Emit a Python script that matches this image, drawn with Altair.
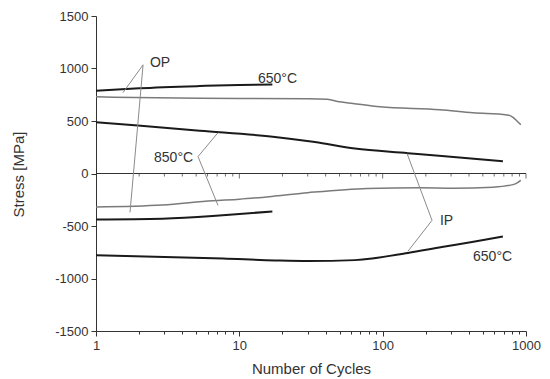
import altair as alt
import pandas as pd

# ---- data ----
op650_t_N = [1, 2, 5.3, 10, 17]
op650_t_S = [788, 812, 833, 843, 847]

g850_t_N = [1, 5.3, 30, 41, 50, 62, 96, 251, 427, 737, 812, 865, 920]
g850_t_S = [730, 716, 711, 706, 683, 667, 635, 608, 578, 558, 535, 500, 465]

ip850_t_N = [1, 1.96, 5.3, 17.7, 33.7, 64, 150, 259, 690]
ip850_t_S = [487, 456, 408, 348, 299, 237, 194, 166, 117]

g850_c_N = [1, 2.9, 6.5, 10, 17.7, 30, 78, 182, 310, 589, 812, 880, 920]
g850_c_S = [-320, -301, -260, -245, -215, -183, -142, -136, -140, -130, -106, -84, -66]

op650_c_N = [1, 2.9, 6.5, 9, 17]
op650_c_S = [-437, -430, -405, -390, -362]

ip650_c_N = [1, 7.7, 17.7, 30, 64, 150, 259, 440, 690]
ip650_c_S = [-779, -810, -828, -834, -825, -757, -700, -648, -600]

x_ticks = [1, 2, 3, 4, 5, 6, 7, 8, 9, 10, 20, 30, 40, 50, 60, 70, 80, 90,
           100, 200, 300, 400, 500, 600, 700, 800, 900, 1000]
x_major = [1, 10, 100, 1000]
y_ticks = list(range(-1500, 1501, 250))

label_text = ["OP", "650°C", "850°C", "IP", "650°C"]
label_N = [2.38, 13.5, 2.54, 251, 427]
label_S = [1054, 902, 152, -456, -798]

ptr_N1 = [2.13, 2.13, 5.15, 5.15, 221, 221]
ptr_S1 = [1035, 1035, 161, 161, -446, -446]
ptr_N2 = [1.54, 1.727, 7.1, 7.1, 148, 150]
ptr_S2 = [769, -370, 389, -304, 190, -741]

# ---- tables ----
def series(name, N, S):
    return pd.DataFrame({"N": N, "S": S, "series": name})

black = pd.concat([series("op650t", op650_t_N, op650_t_S),
                   series("ip850t", ip850_t_N, ip850_t_S),
                   series("op650c", op650_c_N, op650_c_S),
                   series("ip650c", ip650_c_N, ip650_c_S)])
gray = pd.concat([series("g850t", g850_t_N, g850_t_S),
                  series("g850c", g850_c_N, g850_c_S)])

FONT = "Liberation Sans"
TXT = "#333333"

xscale = alt.Scale(type="log", domain=[1, 1000])
yscale = alt.Scale(domain=[-1500, 1500], nice=False, zero=False)

major_x_test = "indexof([1,10,100,1000], datum.value) >= 0"

xaxis = alt.Axis(
    values=x_ticks,
    labelExpr=f"{major_x_test} ? '' + datum.value : ''",
    tickSize={"condition": {"test": major_x_test, "value": 5}, "value": 3},
    grid=False, title="Number of Cycles", labelPadding=3,
    titlePadding=9, labelFlush=False, labelOverlap=False,
)
yaxis = alt.Axis(
    values=y_ticks,
    labelExpr="datum.value % 500 === 0 ? '' + datum.value : ''",
    tickSize={"condition": {"test": "datum.value % 500 === 0", "value": 5}, "value": 3},
    grid=False, title="Stress [MPa]", labelPadding=3, labelOverlap=False,
    titleX=-78, titleY=158, titleAlign="center", titleBaseline="middle", titleAngle=-90,
)

base_black = alt.Chart(black).mark_line(color="#1a1a1a", strokeWidth=2,
                                        interpolate="monotone").encode(
    x=alt.X("N:Q", scale=xscale, axis=xaxis),
    y=alt.Y("S:Q", scale=yscale, axis=yaxis),
    detail="series:N",
)
base_gray = alt.Chart(gray).mark_line(color="#7a7a7a", strokeWidth=1.5,
                                      interpolate="monotone").encode(
    x=alt.X("N:Q", scale=xscale),
    y=alt.Y("S:Q", scale=yscale),
    detail="series:N",
)

zero_df = pd.DataFrame({"x": [1], "x2": [1000], "y": [0]})
zero_line = alt.Chart(zero_df).mark_rule(color=TXT, strokeWidth=1).encode(
    x=alt.X("x:Q", scale=xscale), x2="x2:Q", y=alt.Y("y:Q", scale=yscale)
)

minor_x = [v for v in x_ticks if v not in x_major and v != 1]
maj_df = pd.DataFrame({"N": [v for v in x_major if v != 1], "S": 0})
min_df = pd.DataFrame({"N": minor_x, "S": 0})
zero_major = alt.Chart(maj_df).mark_tick(orient="vertical", size=5, thickness=1,
                                         color=TXT, yOffset=2.5).encode(
    x=alt.X("N:Q", scale=xscale), y=alt.Y("S:Q", scale=yscale))
zero_minor = alt.Chart(min_df).mark_tick(orient="vertical", size=3, thickness=1,
                                         color=TXT, yOffset=1.5).encode(
    x=alt.X("N:Q", scale=xscale), y=alt.Y("S:Q", scale=yscale))

ptr_df = pd.DataFrame({"N1": ptr_N1, "S1": ptr_S1, "N2": ptr_N2, "S2": ptr_S2})
pointers = alt.Chart(ptr_df).mark_rule(color="#8a8a8a", strokeWidth=1).encode(
    x=alt.X("N1:Q", scale=xscale), y=alt.Y("S1:Q", scale=yscale),
    x2="N2:Q", y2="S2:Q")

lab_df = pd.DataFrame({"N": label_N, "S": label_S, "t": label_text})
labels = alt.Chart(lab_df).mark_text(align="left", baseline="middle", font=FONT,
                                     fontSize=14, color=TXT).encode(
    x=alt.X("N:Q", scale=xscale), y=alt.Y("S:Q", scale=yscale), text="t:N")

chart = alt.layer(base_black, base_gray, zero_line, zero_major, zero_minor,
                  pointers, labels).properties(
    width=430, height=315,
    autosize=alt.AutoSizeParams(type="none"),
    padding={"left": 96, "top": 16, "right": 24, "bottom": 48},
    background="white",
).configure_view(stroke=None).configure_axis(
    domainColor=TXT, tickColor=TXT, labelColor=TXT, titleColor=TXT,
    labelFont=FONT, titleFont=FONT, labelFontSize=13, titleFontSize=15,
    titleFontWeight="normal", domainWidth=1, tickWidth=1,
)

chart.save("out.html", embed_options={"renderer": "svg", "actions": False})
